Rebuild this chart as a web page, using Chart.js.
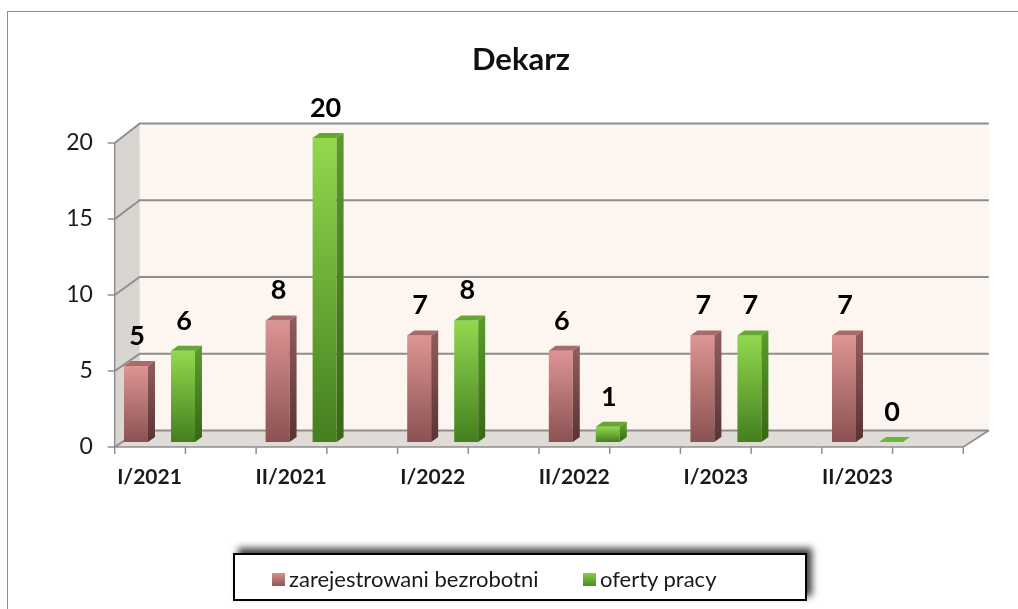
<!DOCTYPE html>
<html>
<head>
<meta charset="utf-8">
<script src="https://cdn.jsdelivr.net/npm/chart.js@4.4.1/dist/chart.umd.min.js"></script>
<style>
  html, body { margin:0; padding:0; background:#fff; }
  body { width:1018px; height:609px; position:relative; overflow:hidden; font-family: Lato, "Open Sans", sans-serif; }
  #frame { position:absolute; left:7px; top:11px; width:1100px; height:700px; border-left:1.5px solid #8c8c8c; border-top:1.5px solid #8c8c8c; }
  #c { position:absolute; left:0; top:0; }
  #title { position:absolute; left:421px; width:200px; top:39px; text-align:center; font-weight:700; font-size:31px; color:#111; line-height:38px; }
  #legend { position:absolute; left:233px; top:553px; width:570px; height:44px; border:2px solid #000; background:#fff; box-shadow:5px -5px 7px rgba(0,0,0,0.75); }
  .sw { position:absolute; width:13px; height:13px; top:18px; }
  .lt { position:absolute; top:10px; font-size:22px; line-height:28px; color:#1a1a1a; white-space:nowrap; }
</style>
</head>
<body>
<div id="frame"></div>
<canvas id="c" width="1018" height="609"></canvas>
<div id="title">Dekarz</div>
<div id="legend">
  <div class="sw" id="sw0" style="left:37px;background:linear-gradient(#d98f8f,#8e5656);"></div>
  <div class="lt" id="lt0" style="left:54px;"></div>
  <div class="sw" id="sw1" style="left:348px;background:linear-gradient(#86cf45,#4a8a25);"></div>
  <div class="lt" id="lt1" style="left:365px;"></div>
</div>
<script>
const categories = ["I/2021", "II/2021", "I/2022", "II/2022", "I/2023", "II/2023"];
const seriesNames = ["zarejestrowani bezrobotni", "oferty pracy"];
const unemployed = [5, 8, 7, 6, 7, 7];
const offers = [6, 20, 8, 1, 7, 0];
const yTicks = [0, 5, 10, 15, 20];
const chartTitle = "Dekarz";

document.getElementById('title').textContent = chartTitle;
document.getElementById('lt0').textContent = seriesNames[0];
document.getElementById('lt1').textContent = seriesNames[1];

const palette = [
  { top:'#de9494', bottom:'#8a5252', sideTop:'#8e5b5b', sideBottom:'#5a3232', cap:'#a86a6a' },
  { top:'#92d94e', bottom:'#437f1f', sideTop:'#5a9a2a', sideBottom:'#376717', cap:'#64a832' }
];

function gradFill(di) {
  return (ctx) => {
    const chart = ctx.chart;
    const p = palette[di];
    if (!chart.chartArea || ctx.type !== 'data') return p.top;
    const y = chart.scales.y;
    const yt = y.getPixelForValue(ctx.raw);
    const yb = y.getPixelForValue(0);
    if (yb - yt < 1) return p.top;
    const g = chart.ctx.createLinearGradient(0, yt, 0, yb);
    g.addColorStop(0, p.top);
    g.addColorStop(1, p.bottom);
    return g;
  };
}

const DX = 7, DY = -5;

const threeD = {
  id: 'threeD',
  geom(chart) {
    const ca = chart.chartArea, y = chart.scales.y;
    const y0 = y.getPixelForValue(0);
    return {
      yF: v => y0 + 5 - (y0 - y.getPixelForValue(v)),
      yB: v => y0 - 11.5 - (y0 - y.getPixelForValue(v)) * 1.01,
      FX0: ca.left + 26, FX1: ca.right + 25,
      BX0: ca.left + 51, BX1: ca.right + 50.5
    };
  },
  beforeDatasetsDraw(chart) {
    const c = chart.ctx;
    const { yF, yB, FX0, FX1, BX0, BX1 } = this.geom(chart);
    const vMax = yTicks[yTicks.length - 1];
    c.save();
    c.fillStyle = '#fdf5ef';
    c.fillRect(BX0, yB(vMax), BX1 - BX0, yB(0) - yB(vMax));
    c.fillStyle = '#d9d5d0';
    c.beginPath();
    c.moveTo(FX0, yF(0)); c.lineTo(FX0, yF(vMax)); c.lineTo(BX0, yB(vMax)); c.lineTo(BX0, yB(0)); c.closePath();
    c.fill();
    c.fillStyle = '#dfdbd6';
    c.beginPath();
    c.moveTo(FX0, yF(0)); c.lineTo(FX1, yF(0)); c.lineTo(BX1, yB(0)); c.lineTo(BX0, yB(0)); c.closePath();
    c.fill();
    c.strokeStyle = '#8e8e8e';
    c.lineWidth = 2;
    yTicks.forEach(v => {
      c.beginPath();
      c.moveTo(FX0, yF(v)); c.lineTo(BX0, yB(v)); c.lineTo(BX1, yB(v));
      c.stroke();
    });
    c.lineWidth = 1.5;
    c.beginPath();
    c.moveTo(FX0, yF(0)); c.lineTo(FX1, yF(0)); c.lineTo(BX1, yB(0));
    c.stroke();
    c.beginPath();
    c.moveTo(FX0, yF(0)); c.lineTo(FX0, yF(vMax));
    c.stroke();
    yTicks.forEach(v => {
      c.beginPath(); c.moveTo(FX0 - 7, yF(v)); c.lineTo(FX0, yF(v)); c.stroke();
    });
    const n = categories.length * 2;
    for (let k = 0; k <= n; k++) {
      const x = FX0 + k * (FX1 - FX0) / n;
      c.beginPath(); c.moveTo(x, yF(0)); c.lineTo(x, yF(0) + 7); c.stroke();
    }
    c.restore();
  },
  afterDatasetsDraw(chart) {
    const c = chart.ctx;
    c.save();
    chart.data.datasets.forEach((ds, di) => {
      const meta = chart.getDatasetMeta(di);
      const p = palette[di];
      meta.data.forEach((bar, i) => {
        const { x, y, base, width } = bar.getProps(['x', 'y', 'base', 'width'], true);
        const l = x - width / 2, r = x + width / 2;
        if (base - y >= 1) {
          const g = c.createLinearGradient(0, y, 0, base);
          g.addColorStop(0, p.sideTop); g.addColorStop(1, p.sideBottom);
          c.fillStyle = g;
          c.beginPath();
          c.moveTo(r, y); c.lineTo(r + DX, y + DY); c.lineTo(r + DX, base + DY); c.lineTo(r, base); c.closePath();
          c.fill();
        }
        c.fillStyle = (base - y >= 1) ? p.cap : '#6ab936';
        c.beginPath();
        c.moveTo(l, y); c.lineTo(l + DX, y + DY); c.lineTo(r + DX, y + DY); c.lineTo(r, y); c.closePath();
        c.fill();
        c.fillStyle = '#000';
        c.font = 'bold 27px Lato, "Open Sans", sans-serif';
        c.textAlign = 'center';
        c.textBaseline = 'middle';
        c.fillText(String(ds.data[i]), x + 1, y - 30);
      });
    });
    c.restore();
  }
};

new Chart(document.getElementById('c'), {
  type: 'bar',
  data: {
    labels: categories,
    datasets: [
      { label: seriesNames[0], data: unemployed, backgroundColor: gradFill(0), borderWidth: 0,
        categoryPercentage: 0.664, barPercentage: 0.51 },
      { label: seriesNames[1], data: offers, backgroundColor: gradFill(1), borderWidth: 0,
        categoryPercentage: 0.664, barPercentage: 0.51 }
    ]
  },
  options: {
    responsive: false,
    animation: false,
    devicePixelRatio: 1,
    layout: { padding: { left: 48.7, right: 79.7, top: 138, bottom: 107 } },
    plugins: { legend: { display: false }, title: { display: false }, tooltip: { enabled: false } },
    scales: {
      x: {
        grid: { display: false, drawTicks: false },
        border: { display: false },
        ticks: { font: { family: 'Lato, "Open Sans", sans-serif', size: 21, weight: 'bold' }, color: '#1a1a1a',
                 padding: 23, labelOffset: -10, maxRotation: 0, autoSkip: false },
        afterFit: s => { s.height = 60; }
      },
      y: {
        min: 0, max: 20,
        grid: { display: false, drawTicks: false },
        border: { display: false },
        ticks: { stepSize: 5, font: { family: 'Lato, "Open Sans", sans-serif', size: 23 }, color: '#1a1a1a',
                 mirror: true, crossAlign: 'far', padding: -22.5, labelOffset: 5 },
        afterFit: s => { s.width = 40; }
      }
    }
  },
  plugins: [threeD]
});
</script>
</body>
</html>
